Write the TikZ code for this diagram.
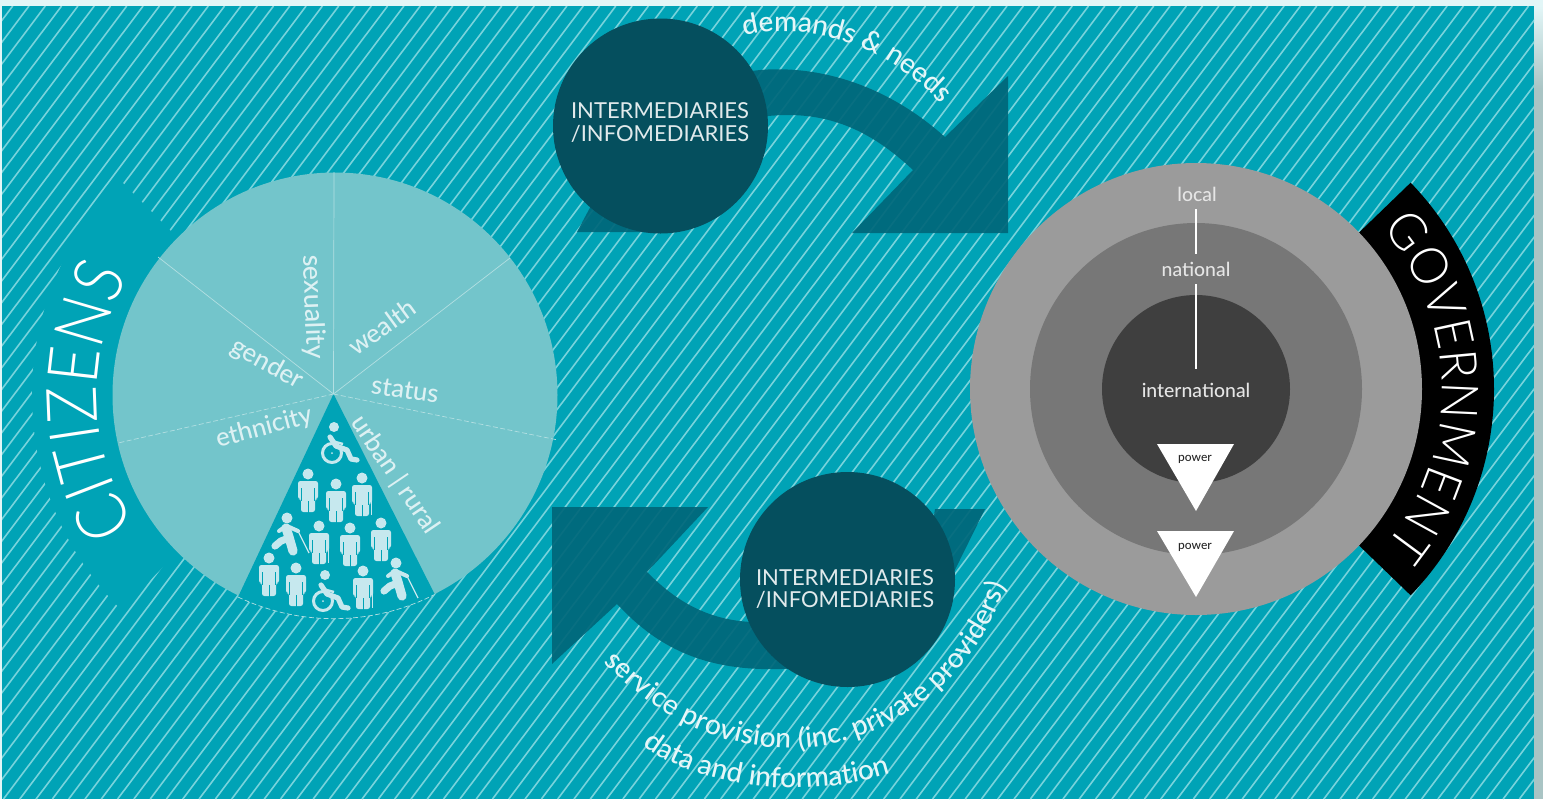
\documentclass[tikz,border=0pt]{standalone}
\usepackage{fontspec}
\setmainfont{Lato}
\newfontfamily\bandfont{Lato Light}[FakeStretch=0.88]
\newfontfamily\govfont{Lato Light}[FakeStretch=0.95]
\newfontfamily\midfont{Lato Medium}
\usetikzlibrary{decorations.text}
\definecolor{bgteal}{HTML}{00A3B6}
\definecolor{stripe}{HTML}{78D3DC}
\definecolor{darkc}{HTML}{054F5E}
\definecolor{arrowc}{HTML}{00677A}
\definecolor{piec}{HTML}{73C5CB}
\definecolor{pietext}{HTML}{DDF1F3}
\definecolor{iconc}{HTML}{C6E8EE}
\definecolor{gthree}{HTML}{9B9B9B}
\definecolor{gtwo}{HTML}{777777}
\definecolor{gone}{HTML}{3F3F3F}
\definecolor{edgelight}{HTML}{E2F6F7}
\definecolor{edgegrey}{HTML}{A9C4C4}
\newcommand{\pxfont}[1]{\fontsize{#1}{#1}\selectfont}
\tikzset{
  x=0.5pt,y=-0.5pt,
  arrowshape/.style={fill=arrowc,fill opacity=.92},
  hub/.style={circle,fill=darkc,minimum size=107.5pt,inner sep=0pt},
  hubtext/.style={text=white!88!darkc,align=center,font=\pxfont{11},inner sep=0pt},
  pietxt/.style={text=pietext,font=\midfont\pxfont{12.8},inner sep=0pt},
  govtxt/.style={text=white!90!black,font=\midfont\pxfont{9.7},inner sep=0pt},
  powertxt/.style={text=black!85,font=\midfont\pxfont{6},inner sep=0pt},
  divider/.style={draw=white!45!piec,line width=.35pt},
  dividerd/.style={divider,dash pattern=on 2.5pt off 1.2pt},
  person/.pic={
    \fill[iconc] (0,0) circle[radius=5.5];
    \fill[iconc,rounded corners=1.2pt] (-10,7)--(10,7)--(10,25)--(7,25)--(7,38)--(-7,38)--(-7,25)--(-10,25)--cycle;
    \draw[bgteal,line width=.5pt] (-6.5,14)--(-6.5,27) (6.5,14)--(6.5,27) (0,27)--(0,39);
  },
  caneperson/.pic={
    \pic {person};
    \draw[iconc,line width=.6pt] (9.5,20)--(9.5,37);
  },
  wheelie/.pic={
    \fill[iconc] (0,0) circle[radius=5];
    \draw[iconc,line width=1.5pt] (-2,26) circle[radius=9.5];
    \fill[iconc] (-2,26) circle[radius=1];
    \draw[iconc,line width=2.6pt,line cap=round,line join=round] (-4,10)--(2,19)--(13,23)--(17,32)--(23,33);
    \draw[iconc,line width=1.2pt] (-2,14)--(9,17);
  },
  runner/.pic={
    \fill[iconc] (0,0) circle[radius=5.5];
    \draw[iconc,line width=4.6pt,line cap=round,line join=round] (-1,10)--(2,19)--(6,33);
    \draw[iconc,line width=3.6pt,line cap=round,line join=round] (2,20)--(-6,23)--(-12,28);
    \draw[iconc,line width=2pt,line cap=round,line join=round] (-1,8)--(-8,13) (0,8)--(11,13);
    \draw[iconc,line width=.6pt] (11,13)--(22,35);
  },
}
\begin{document}
\begin{tikzpicture}
\useasboundingbox (0,0) rectangle (1543,799);
% page edges
\fill[edgelight] (0,0) rectangle (1543,799);
\fill[edgegrey] (1534,90) rectangle (1543,799);
\shade[top color=edgelight,bottom color=edgegrey] (1534,6) rectangle (1543,90);
\fill[bgteal] (2,6) rectangle (1534,799);
% stripes
\begin{scope}
\clip (2,6) rectangle (1534,799);
\foreach \k in {-1,...,134}{
  \draw[stripe,line width=.8pt] ({12.7+16.3*\k},6) -- ({12.7+16.3*\k-596},799);
}
\end{scope}
% citizens band
\fill[bgteal] (335,395) ++(135:222) -- ++(135:81) arc[start angle=135,end angle=225,radius=303] -- (335,395) -- cycle;
\path[decorate,decoration={text along path,text align={fit to path},text={|\bandfont\pxfont{35}\color{white}|CITIZENS{\ }}}]
  (335,395) ++(147:238) arc[start angle=147,end angle=208,radius=238];
% pie
\fill[piec] (335,395) circle[radius=222.5];
\fill[bgteal] (333.5,394) -- (238,597) arc[start angle=115.5,end angle=63,radius=222.5] -- cycle;
\draw[dividerd] (238,597) arc[start angle=115.5,end angle=63,radius=222.5];
\draw[divider] (333.5,394)--(158,257) (333.5,394)--(334,172) (333.5,394)--(510,258);
\draw[dividerd] (333.5,394)--(558,440) (333.5,394)--(118,443);
\node[pietxt,rotate=-88,font=\midfont\pxfont{13.4}] (tsex) at (313,307) {sexuality};
\node[pietxt,rotate=36] (twea) at (382,327) {wealth};
\node[pietxt,rotate=-29] (tgen) at (267,364) {gender};
\node[pietxt,rotate=-8] (tsta) at (405,390) {status};
\node[pietxt,rotate=15] (teth) at (264,428) {ethnicity};
\node[pietxt,rotate=-56] (turb) at (395,475) {urban | rural};
% icons
\pic at (334,427) {wheelie};
\pic at (308,474) {person};
\pic at (336,484) {person};
\pic at (362,478) {caneperson};
\pic at (287,518) {runner};
\pic at (319,526) {caneperson};
\pic at (350,528) {person};
\pic at (381,523) {person};
\pic at (269,558) {person};
\pic at (296,568) {person};
\pic at (325,575) {wheelie};
\pic at (363,571) {caneperson};
\pic at (396,563) {runner};
% government
\fill[black] (1197,389) ++(-44:200) -- ++(-44:97) arc[start angle=-44,end angle=44,radius=297] -- (1197,389) -- cycle;
\fill[gthree] (1196,389) circle[radius=226];
\fill[gtwo] (1196,389) circle[radius=166];
\fill[gone] (1196,389) circle[radius=94];
\path[decorate,decoration={text along path,text align={fit to path},text={|\govfont\pxfont{25.7}\color{white}|GOVERNMENT{\ }}}]
  (1197,389) ++(-41:245) arc[start angle=-41,end angle=43,radius=245];
\coordinate (l1a) at (1196,209); \coordinate (l1b) at (1196,254);
\coordinate (l2a) at (1196,284); \coordinate (l2b) at (1196,369);
\draw[white,line width=1.4pt] (l1a)--(l1b) (l2a)--(l2b);
\node[govtxt] (tloc) at (1197,194) {local};
\node[govtxt] (tnat) at (1196,269) {national};
\node[govtxt] (tint) at (1196,390) {international};
\fill[white] (1157,444)--(1234,444)--(1196,511)--cycle;
\fill[white] (1157,531)--(1234,531)--(1196,597)--cycle;
\node[powertxt] (tp1) at (1195,459) {power};
\node[powertxt] (tp2) at (1195,547) {power};
% arrows
\fill[arrowshape] (945,137)--(1008,76)--(1008,233)--(852,233)--(913,170)
  .. controls (870,130) and (825,108) .. (760,117) -- (745,72)
  .. controls (790,64) and (870,70) .. (945,137) -- cycle;
\fill[arrowshape] (577,232)--(610,170)--(650,232)--cycle;
\fill[arrowshape] (617,604)--(552,664)--(552,507)--(708,507)--(647,572)
  .. controls (680,605) and (720,630) .. (790,620) -- (800,668)
  .. controls (710,675) and (660,650) .. (617,604) -- cycle;
\fill[arrowshape] (935,509)--(985,509)--(950,580)--(930,540)--cycle;
% hubs
\node[hub] (hubone) at (660.5,126) {};
\node[hub] (hubtwo) at (847.5,579.5) {};
\node[hubtext] (txone) at (660,122.5) {INTERMEDIARIES\\[.1pt]/INFOMEDIARIES};
\node[hubtext] (txtwo) at (845,589) {INTERMEDIARIES\\[.1pt]/INFOMEDIARIES};
% curved labels
\path[decorate,decoration={text along path,text align={fit to path},text={|\midfont\pxfont{14}\color{white!90!bgteal}|demands {\&} needs}}]
  (744,36) .. controls (810,20) and (885,45) .. (941,104);
\path[decorate,decoration={text along path,text align={fit to path},text={|\midfont\pxfont{14}\color{white!90!bgteal}|service provision (inc. private providers)}}]
  (604,662) .. controls (665,725) and (730,750) .. (800,748) .. controls (880,745) and (970,690) .. (1006,586);
\path[decorate,decoration={text along path,text align={fit to path},text={|\midfont\pxfont{14}\color{white!90!bgteal}|data and information}}]
  (643,745) .. controls (690,782) and (790,803) .. (886,775);
\end{tikzpicture}
\end{document}
